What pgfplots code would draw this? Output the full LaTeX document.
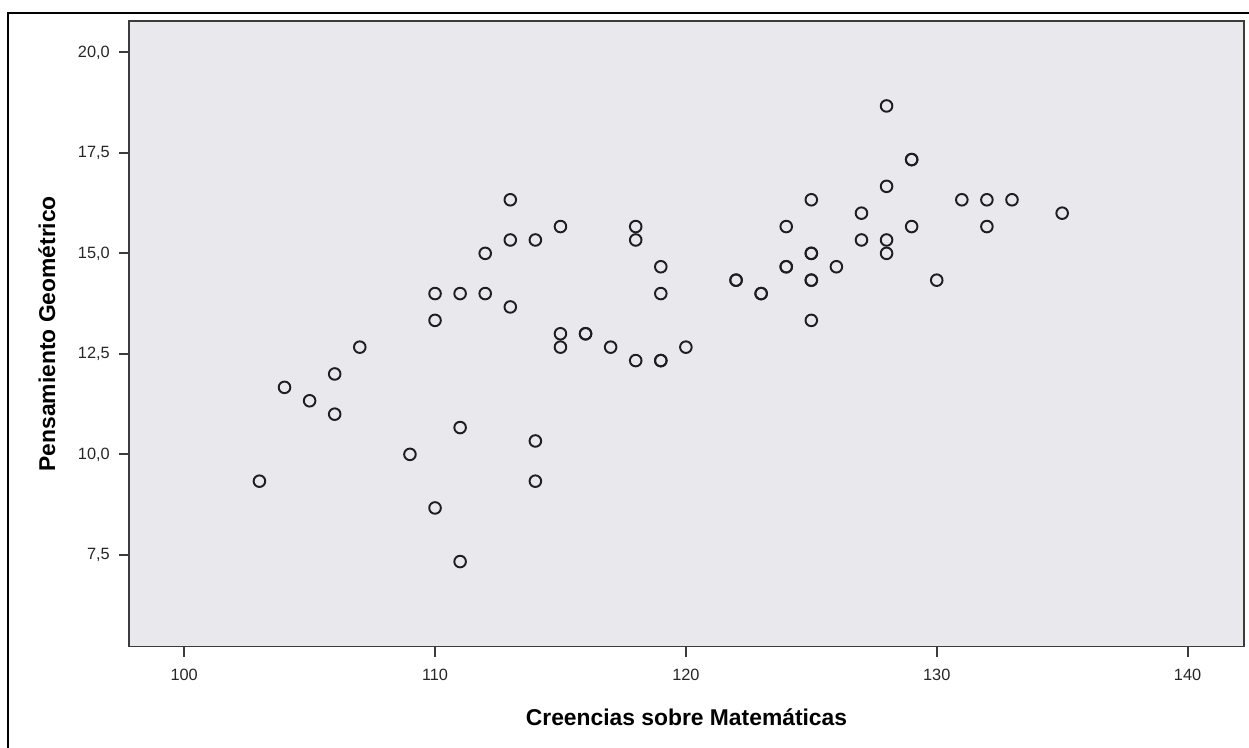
\documentclass[border=0pt]{standalone}
\usepackage{pgfplots}
\pgfplotsset{compat=1.18}
\usepackage{fontspec}
\setmainfont{Liberation Sans}
\definecolor{bggray}{RGB}{232,232,237}
\definecolor{axgray}{RGB}{60,60,60}
\definecolor{mk}{RGB}{30,30,30}
\begin{document}
\begin{tikzpicture}
\path[use as bounding box] (0,0) rectangle (24.98,-14.94);
\draw[line width=0.055cm, black] (0.16,-15.3) -- (0.16,-0.26) -- (25.3,-0.26);
\begin{axis}[
  at={(2.58cm,-0.42cm)}, anchor=north west,
  width=22.3cm, height=12.51cm, scale only axis,
  xmin=97.8, xmax=142.25, ymin=5.22, ymax=20.78,
  axis background/.style={fill=bggray},
  axis line style={axgray, line width=1.1pt},
  xtick={100,110,120,130,140},
  ytick={7.5,10,12.5,15,17.5,20},
  tick align=outside,
  major tick length=0.2cm,
  tick style={axgray, line width=1.2pt},
  xtick pos=bottom, ytick pos=left,
  /pgf/number format/assume math mode=true,
  yticklabel style={/pgf/number format/use comma, /pgf/number format/fixed, /pgf/number format/fixed zerofill, /pgf/number format/precision=1, xshift=-0.06cm},
  xticklabel style={/pgf/number format/fixed, /pgf/number format/precision=0, yshift=-0.12cm},
  tick label style={font=\fontsize{9.3}{10}\selectfont, text=black!85},
  xlabel={Creencias sobre Matemáticas},
  ylabel={Pensamiento Geométrico},
  xlabel style={font=\bfseries\fontsize{13}{15}\selectfont, at={(axis description cs:0.5,0)}, anchor=base, yshift=-1.57cm},
  ylabel style={font=\bfseries\fontsize{13}{15}\selectfont, at={(axis description cs:0,0.5)}, anchor=base, yshift=1.48cm},
]
\addplot[only marks, mark=o, mark size=3.3pt, mark options={draw=mk, line width=1.1pt}] table {
x y
103 9.333
104 11.667
105 11.333
106 12
106 11
107 12.667
109 10
110 14
110 13.333
110 8.667
111 14
111 10.667
111 7.333
112 15
112 14
113 16.333
113 15.333
113 13.667
114 15.333
114 10.333
114 9.333
115 15.667
115 13
115 12.667
116 13
116 13
117 12.667
118 15.667
118 15.333
118 12.333
119 14.667
119 14
119 12.333
119 12.333
120 12.667
122 14.333
122 14.333
123 14
123 14
124 15.667
124 14.667
124 14.667
125 16.333
125 15
125 15
125 14.333
125 14.333
125 13.333
126 14.667
127 16
127 15.333
128 18.667
128 16.667
128 15.333
128 15
129 17.333
129 17.333
129 15.667
130 14.333
131 16.333
132 16.333
132 15.667
133 16.333
135 16
};
\end{axis}
\end{tikzpicture}
\end{document}
